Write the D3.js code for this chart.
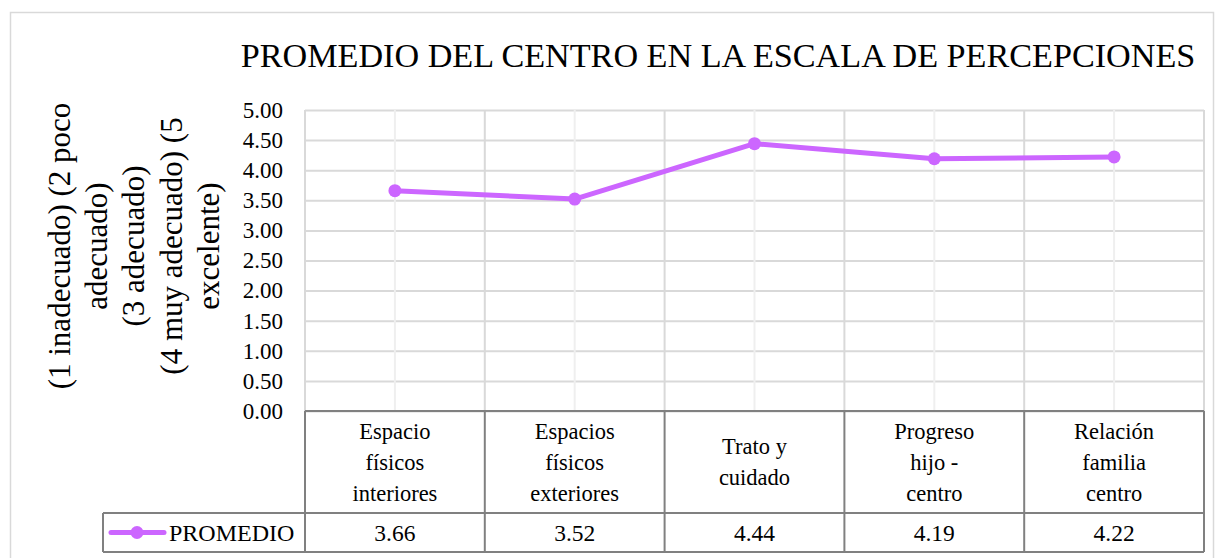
<!DOCTYPE html>
<html>
<head>
<meta charset="utf-8">
<script src="https://cdn.jsdelivr.net/npm/d3@7"></script>
<style>
  body { margin: 0; background: #fff; }
  svg text { font-family: "Liberation Serif", "DejaVu Serif", serif; fill: #000; }
</style>
</head>
<body>
<div id="chart"></div>
<script>
// Data
const categories = ["Espacio físicos interiores", "Espacios físicos exteriores", "Trato y cuidado", "Progreso hijo - centro", "Relación familia centro"];
const categoryLines = [["Espacio", "físicos", "interiores"], ["Espacios", "físicos", "exteriores"], ["Trato y", "cuidado"], ["Progreso", "hijo -", "centro"], ["Relación", "familia", "centro"]];
const promedio = [3.66, 3.52, 4.44, 4.19, 4.22];
const seriesName = "PROMEDIO";
const yTicks = [0, 0.5, 1, 1.5, 2, 2.5, 3, 3.5, 4, 4.5, 5];
const titleText = "PROMEDIO DEL CENTRO EN LA ESCALA DE PERCEPCIONES";
const yTitleLines = ["(1 inadecuado) (2 poco", "adecuado)", "(3 adecuado)", "(4 muy adecuado) (5", "excelente)"];

const width = 1217;
const height = 558;
const marginTop = 110;
const marginRight = 13;
const marginLeft = 305;
const plotBottom = 411;
const headerBottom = 513;
const tableBottom = 552;
const legendLeft = 103;
const lineColor = "#cc66ff";

const x = d3.scaleBand()
    .domain(categories)
    .range([marginLeft, width - marginRight]);

const y = d3.scaleLinear()
    .domain([0, 5])
    .range([plotBottom, marginTop]);

const svg = d3.create("svg")
    .attr("width", width)
    .attr("height", height);

// Chart border
svg.append("rect")
    .attr("x", 10.5).attr("y", 12.5)
    .attr("width", 1203).attr("height", 560)
    .attr("fill", "#fff")
    .attr("stroke", "#d9d9d9")
    .attr("stroke-width", 1.5);

// Title, fitted to the reference width
const title = svg.append("text")
    .attr("x", 718)
    .attr("y", 67)
    .attr("text-anchor", "middle")
    .attr("font-size", 36)
    .text(titleText);

// Horizontal gridlines
svg.append("g")
    .attr("transform", `translate(${marginLeft},0)`)
    .call(d3.axisLeft(y).tickValues(yTicks).tickSize(-(x.range()[1] - marginLeft)).tickFormat(""))
    .call(g => g.select(".domain").remove())
    .call(g => g.selectAll("line").attr("stroke", "#d9d9d9").attr("stroke-width", 2));

// Vertical gridlines: category boundaries and centres
svg.append("g")
    .selectAll("line.minor")
    .data(categories)
    .join("line")
    .attr("x1", d => x(d) + x.bandwidth() / 2)
    .attr("x2", d => x(d) + x.bandwidth() / 2)
    .attr("y1", y(5)).attr("y2", y(0))
    .attr("stroke", "#efefef")
    .attr("stroke-width", 2);

svg.append("g")
    .selectAll("line.major")
    .data(categories)
    .join("line")
    .attr("x1", d => x(d) + x.bandwidth())
    .attr("x2", d => x(d) + x.bandwidth())
    .attr("y1", y(5)).attr("y2", y(0))
    .attr("stroke", "#d9d9d9")
    .attr("stroke-width", 2);

svg.append("line")
    .attr("x1", marginLeft).attr("x2", marginLeft)
    .attr("y1", y(5)).attr("y2", y(0))
    .attr("stroke", "#d9d9d9")
    .attr("stroke-width", 2);

// Y axis labels
svg.append("g")
    .attr("transform", `translate(283,0)`)
    .call(d3.axisLeft(y).tickValues(yTicks).tickSize(0).tickPadding(0).tickFormat(d3.format(".2f")))
    .call(g => g.select(".domain").remove())
    .call(g => g.selectAll("text")
        .attr("font-size", 23)
        .attr("font-family", "Liberation Serif")
        .attr("fill", "#000"));

// Y axis title
const yTitle = svg.append("text")
    .attr("transform", "translate(0,246) rotate(-90)")
    .attr("text-anchor", "middle")
    .attr("font-size", 27);
yTitle.selectAll("tspan")
    .data(yTitleLines)
    .join("tspan")
    .attr("x", 0)
    .attr("y", (d, i) => 70 + i * 37.2)
    .text(d => d);

// Data table
const table = svg.append("g")
    .attr("fill", "none")
    .attr("stroke", "#808080")
    .attr("stroke-width", 2);

table.append("line")
    .attr("x1", marginLeft).attr("x2", x.range()[1])
    .attr("y1", plotBottom).attr("y2", plotBottom);
table.append("line")
    .attr("x1", legendLeft).attr("x2", x.range()[1])
    .attr("y1", headerBottom).attr("y2", headerBottom);
table.append("line")
    .attr("x1", legendLeft).attr("x2", x.range()[1])
    .attr("y1", tableBottom).attr("y2", tableBottom);
table.append("line")
    .attr("x1", legendLeft).attr("x2", legendLeft)
    .attr("y1", headerBottom).attr("y2", tableBottom);
table.append("line")
    .attr("x1", marginLeft).attr("x2", marginLeft)
    .attr("y1", plotBottom).attr("y2", tableBottom);
table.selectAll("line.sep")
    .data(categories)
    .join("line")
    .attr("x1", d => x(d) + x.bandwidth())
    .attr("x2", d => x(d) + x.bandwidth())
    .attr("y1", plotBottom).attr("y2", tableBottom);

// Category labels in header row
const headerMid = (plotBottom + headerBottom) / 2;
const lineH = 31;
svg.append("g")
    .selectAll("text")
    .data(categories)
    .join("text")
    .attr("text-anchor", "middle")
    .attr("font-size", 22.5)
    .each(function(d, i) {
        const lines = categoryLines[i];
        const startY = headerMid - (lines.length - 1) * lineH / 2;
        d3.select(this).selectAll("tspan")
            .data(lines)
            .join("tspan")
            .attr("x", x(d) + x.bandwidth() / 2)
            .attr("y", (l, j) => startY + j * lineH)
            .attr("dy", "0.35em")
            .text(l => l);
    });

// Values row
const valueMid = (headerBottom + tableBottom) / 2;
svg.append("g")
    .selectAll("text")
    .data(categories)
    .join("text")
    .attr("x", d => x(d) + x.bandwidth() / 2)
    .attr("y", valueMid)
    .attr("dy", "0.35em")
    .attr("text-anchor", "middle")
    .attr("font-size", 23.5)
    .text((d, i) => promedio[i].toFixed(2));

// Legend key
svg.append("line")
    .attr("x1", 111).attr("x2", 164)
    .attr("y1", valueMid).attr("y2", valueMid)
    .attr("stroke", lineColor)
    .attr("stroke-width", 5)
    .attr("stroke-linecap", "round");
svg.append("circle")
    .attr("cx", 137).attr("cy", valueMid)
    .attr("r", 6.5)
    .attr("fill", lineColor);
svg.append("text")
    .attr("x", 169)
    .attr("y", valueMid)
    .attr("dy", "0.35em")
    .attr("font-size", 24)
    .text(seriesName);

// Series line and markers
const line = d3.line()
    .x((d, i) => x(categories[i]) + x.bandwidth() / 2)
    .y(d => y(d));

svg.append("path")
    .datum(promedio)
    .attr("fill", "none")
    .attr("stroke", lineColor)
    .attr("stroke-width", 5)
    .attr("stroke-linejoin", "round")
    .attr("d", line);

svg.append("g")
    .selectAll("circle")
    .data(promedio)
    .join("circle")
    .attr("cx", (d, i) => x(categories[i]) + x.bandwidth() / 2)
    .attr("cy", d => y(d))
    .attr("r", 6.5)
    .attr("fill", lineColor);

document.getElementById("chart").append(svg.node());

// Fit title and y-title widths to the reference
const tw = title.node().getComputedTextLength();
title.attr("font-size", 36 * 955 / tw);
const first = yTitle.select("tspan").node().getComputedTextLength();
yTitle.attr("font-size", Math.min(31, 27 * 318 / first));
</script>
</body>
</html>
